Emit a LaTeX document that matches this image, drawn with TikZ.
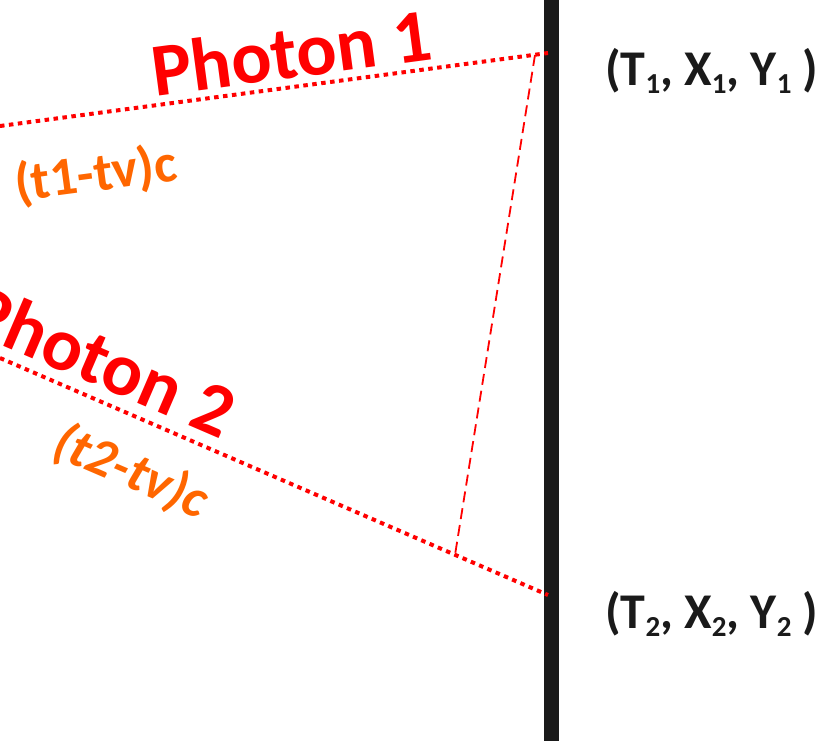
\documentclass[tikz,border=0pt]{standalone}
\usepackage{fontspec}
\setmainfont{Carlito}
\definecolor{barc}{HTML}{1A1A1A}
\definecolor{phred}{HTML}{FF0000}
\definecolor{orng}{HTML}{FF6600}
\newcommand\sbsc[1]{\raisebox{-0.16em}{\fontsize{29}{29}\selectfont #1}}
\begin{document}
\begin{tikzpicture}[x=1pt,y=-1pt,
  photon/.style={draw=phred, line width=4pt, dash pattern=on 4.5pt off 4.5pt},
  guide/.style={draw=phred, line width=1.8pt, dash pattern=on 11pt off 6pt},
  plabel/.style={font=\bfseries\fontsize{75}{75}\selectfont, text=phred, inner sep=0pt},
  olabel/.style={font=\bfseries\fontsize{54}{54}\selectfont, text=orng, inner sep=0pt},
  evlabel/.style={font=\bfseries\fontsize{50}{50}\selectfont, text=barc, inner sep=0pt, anchor=base west}]
\useasboundingbox (0,0) rectangle (836,740);
\clip (0,0) rectangle (836,740);
% wall
\node[fill=barc, inner sep=0pt, minimum width=15pt, minimum height=760pt] (wall) at (551.5,370) {};
% photon endpoints
\coordinate (p1s) at (0,126);
\coordinate (p1e) at (548,53);
\coordinate (p2s) at (0,358);
\coordinate (p2e) at (548,595);
\coordinate (ftop) at (535,55);
\coordinate (fbot) at (455,555);
% lines
\draw[guide] (ftop) -- (fbot);
\draw[photon] (p1s) -- (p1e);
\draw[photon] (p2s) -- (p2e);
% labels
\node[plabel, rotate=7.6] (ph1) at (291,52) {Photon 1};
\node[plabel, rotate=-23.3] (ph2) at (102,360) {Photon 2};
\node[olabel, rotate=7.6] (d1) at (96,175) {(t1-tv)c};
\node[olabel, rotate=-23.3, font=\bfseries\itshape\fontsize{54}{54}\selectfont] (d2) at (131,472) {(t2-tv)c};
\node[evlabel] (ev1) at (605,85) {(T\sbsc{1}, X\sbsc{1}, Y\sbsc{1} )};
\node[evlabel] (ev2) at (605,628) {(T\sbsc{2}, X\sbsc{2}, Y\sbsc{2} )};
\end{tikzpicture}
\end{document}
